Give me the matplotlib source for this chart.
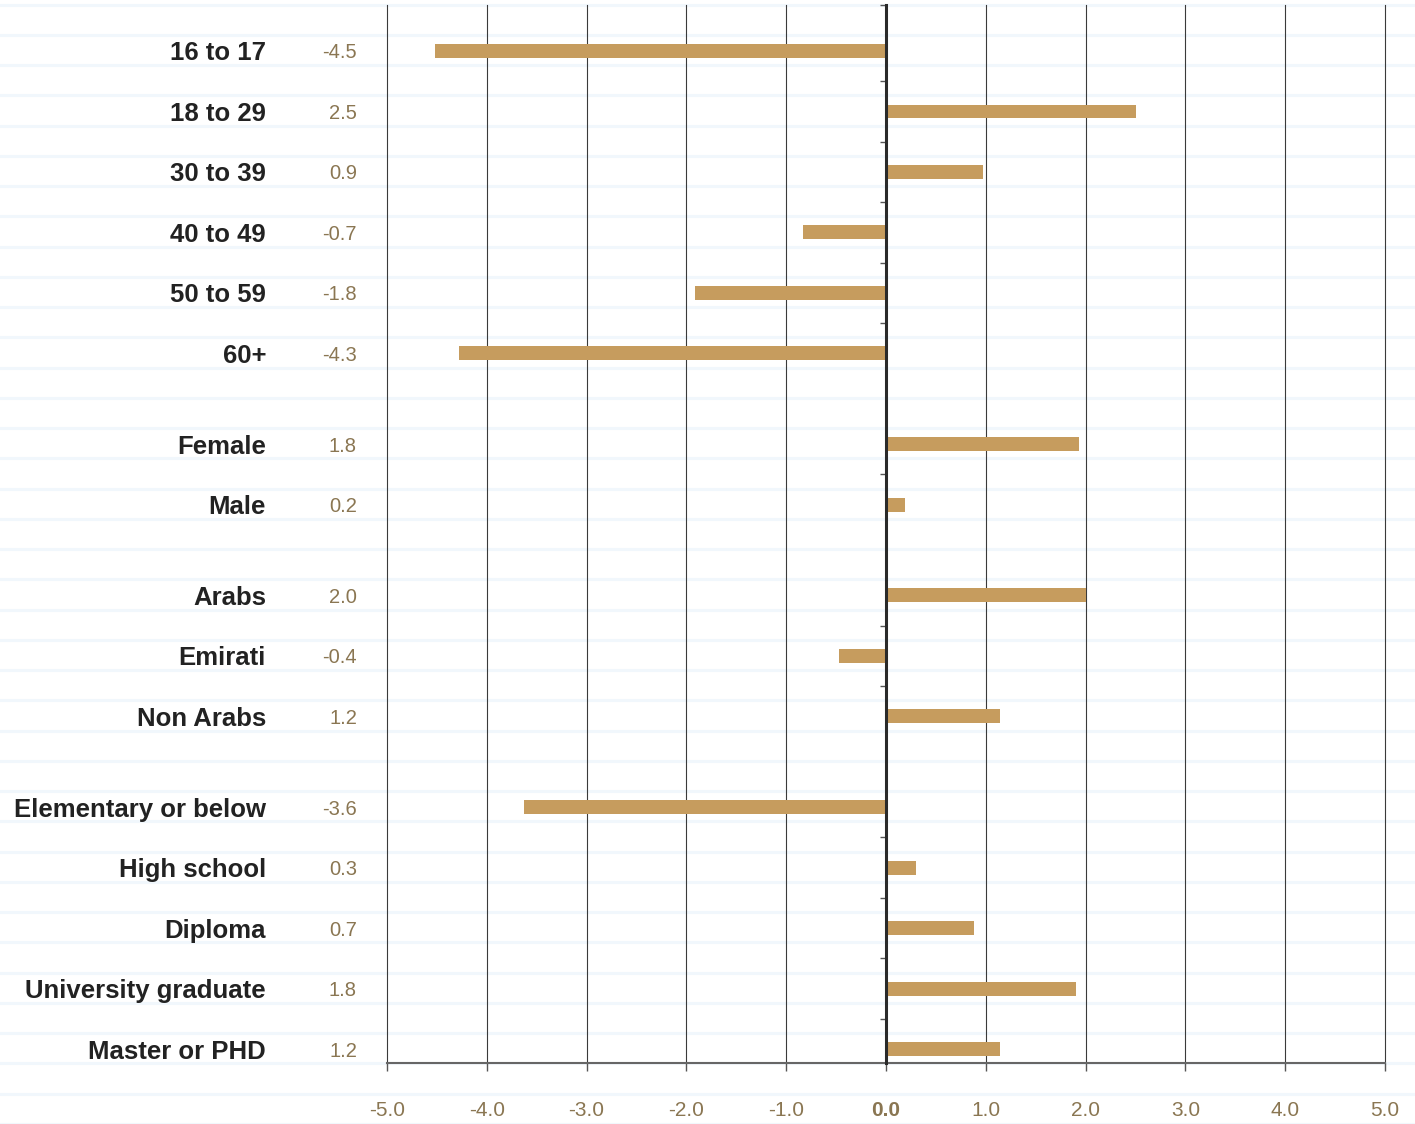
import numpy as np
import matplotlib
matplotlib.use("Agg")
import matplotlib.pyplot as plt

# categories and their row positions (blank half-rows between groups)
categories = ["16 to 17", "18 to 29", "30 to 39", "40 to 49", "50 to 59", "60+",
              "Female", "Male",
              "Arabs", "Emirati", "Non Arabs",
              "Elementary or below", "High school", "Diploma",
              "University graduate", "Master or PHD"]
rows = [0, 1, 2, 3, 4, 5, 6.5, 7.5, 9, 10, 11, 12.5, 13.5, 14.5, 15.5, 16.5]

# bar lengths as drawn, and the printed labels
bar_values = [-4.52, 2.5, 0.97, -0.83, -1.91, -4.28,
              1.93, 0.19,
              2.0, -0.47, 1.14,
              -3.63, 0.30, 0.88, 1.9, 1.14]
value_labels = ["-4.5", "2.5", "0.9", "-0.7", "-1.8", "-4.3",
                "1.8", "0.2",
                "2.0", "-0.4", "1.2",
                "-3.6", "0.3", "0.7", "1.8", "1.2"]

x_ticks = [-5, -4, -3, -2, -1, 0, 1, 2, 3, 4, 5]

W, H = 1415, 1124
fig = plt.figure(figsize=(W / 100, H / 100), dpi=100)

# faint blue stripes behind everything
bg = fig.add_axes([0, 0, 1, 1], zorder=0)
bg.set_xlim(0, W)
bg.set_ylim(H, 0)
bg.axis("off")
for yy in np.arange(4.5, H + 1, 30.25):
    bg.axhline(yy, color="#F1F7FC", lw=2.2)

left, right = 387 / W, 1385 / W
top, bottom = 1 - 5 / H, 1 - 1063 / H
ax = fig.add_axes([left, bottom, right - left, top - bottom], zorder=1)
ax.patch.set_alpha(0)

ax.barh(rows, bar_values, height=0.23, color="#C69C5E", zorder=3)

ax.set_xlim(-5, 5)
ax.set_ylim(16.5 + 0.23, -0.76)

# vertical grid
for x in x_ticks:
    if x != 0:
        ax.axvline(x, color="#3a3a3a", lw=0.8, zorder=2, clip_on=False)

for s in ["top", "right"]:
    ax.spines[s].set_visible(False)
ax.spines["bottom"].set_color("#666666")
ax.spines["bottom"].set_linewidth(1.5)
ax.spines["left"].set_position(("data", 0))
ax.spines["left"].set_color("#2a2a2a")
ax.spines["left"].set_linewidth(2.2)
ax.spines["left"].set_zorder(4)

# small ticks on the zero line between rows of a group
mids = [-0.76] + [(a + b) / 2 for a, b in zip(rows[:-1], rows[1:]) if b - a == 1]
ax.set_yticks(mids)
ax.set_yticklabels([])
ax.tick_params(axis="y", length=4, width=1, color="#555555", direction="out")

ax.set_xticks(x_ticks)
ax.set_xticklabels([f"{x:.1f}" for x in x_ticks])
ax.tick_params(axis="x", length=6, width=1, color="#555555", pad=21,
               labelsize=15, labelcolor="#8A7652")
for lab in ax.get_xticklabels():
    lab.set_fontfamily("Liberation Sans")
    if lab.get_text() == "0.0":
        lab.set_fontweight("bold")

tr = ax.get_yaxis_transform()
for r, cat, lbl in zip(rows, categories, value_labels):
    ax.text(-0.1212, r, cat, transform=tr, ha="right", va="center_baseline",
            fontsize=18.5, fontweight="bold", color="#222222",
            family="Liberation Sans")
    ax.text(-0.0301, r, lbl, transform=tr, ha="right", va="center_baseline",
            fontsize=14.5, color="#8A7652", family="Liberation Sans")

fig.savefig("out.png", dpi=100)
